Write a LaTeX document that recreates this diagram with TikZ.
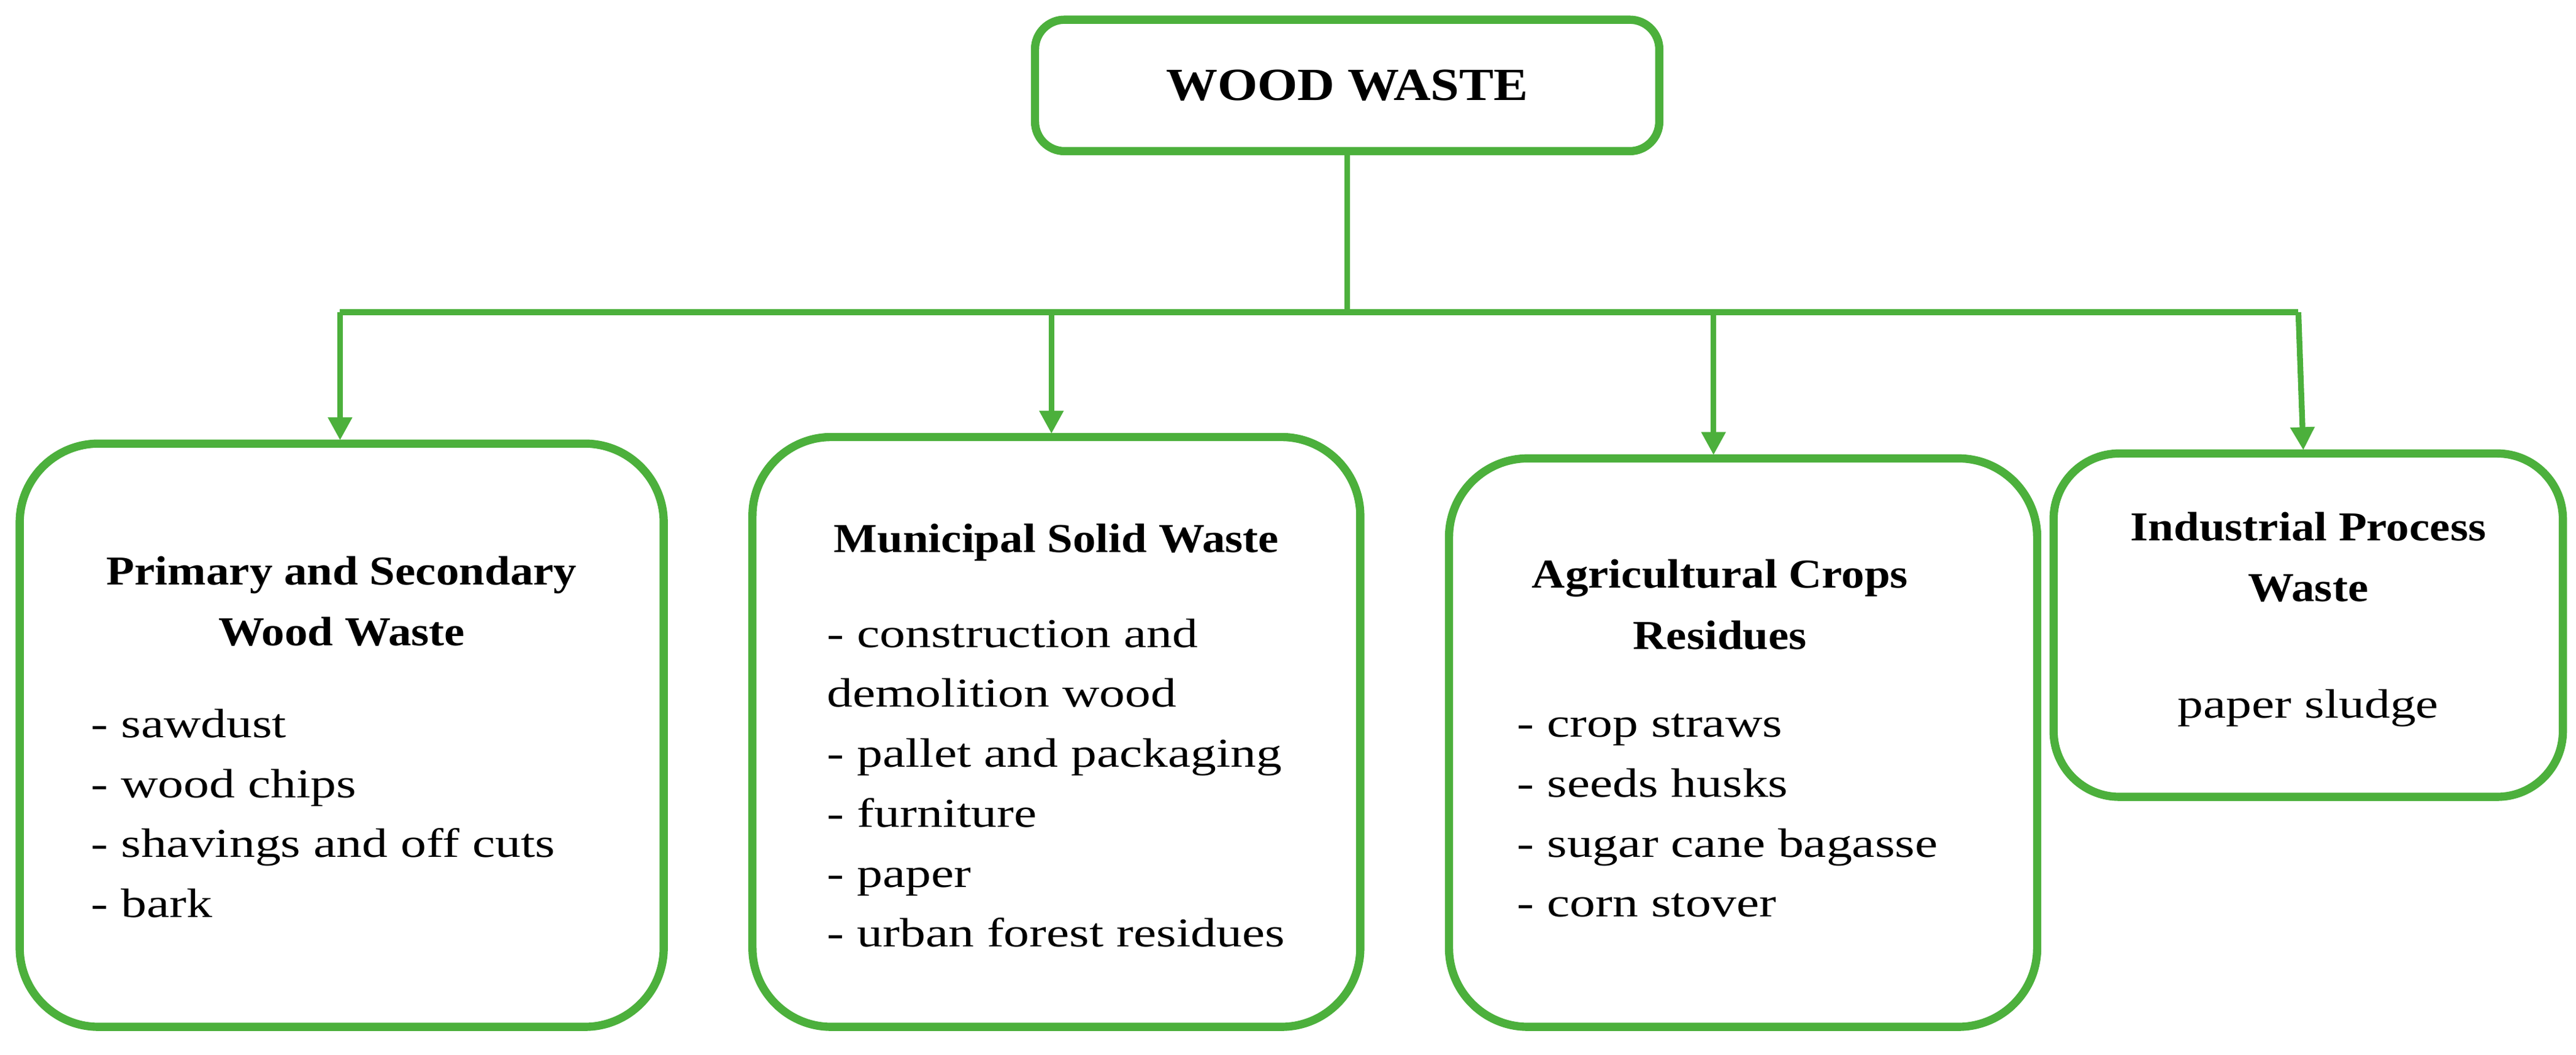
\documentclass[tikz,border=0pt]{standalone}
\usepackage{fontspec}
\setmainfont{Liberation Serif}
\newfontfamily\itemfont{Liberation Serif}[FakeStretch=1.25]
\newfontfamily\headfont{Liberation Serif}[FakeStretch=1.12]
\usetikzlibrary{arrows.meta}
\definecolor{gr}{RGB}{76,176,60}
\begin{document}
\begin{tikzpicture}[x=1pt,y=-1pt,
  box/.style={draw=gr,line width=5pt,rounded corners=48pt},
  conn/.style={draw=gr,line width=3.5pt},
  arr/.style={conn,-{Triangle[width=14pt,length=14pt]}},
  hd/.style={font=\headfont\fontsize{25}{37}\selectfont\bfseries,align=center},
  it/.style={font=\itemfont\fontsize{25}{36.5}\selectfont,align=left,anchor=north west}]
\useasboundingbox (0,0) rectangle (1568,642);
\draw[box,rounded corners=18pt] (630,12) rectangle (1010,92);
\node[font=\headfont\fontsize{28}{34}\selectfont\bfseries] (top) at (820,52) {WOOD WASTE};
\coordinate (ts) at (820,92);
\coordinate (j) at (820,190);
\coordinate (l) at (207,190);
\coordinate (r) at (1399,190);
\draw[box] (12,270) rectangle (404,625);
\draw[box] (458,266) rectangle (828,625);
\draw[box] (882,279) rectangle (1240,625);
\draw[box,rounded corners=40pt] (1250,276) rectangle (1560,485);
\coordinate (b1) at (207,268);
\coordinate (b2) at (640,264);
\coordinate (b3) at (1043,277);
\coordinate (b4) at (1402,274);
\coordinate (h2) at (640,190);
\coordinate (h3) at (1043,190);
\draw[conn] (ts) -- (j);
\draw[conn] (l) -- (r);
\draw[arr] (l) -- (b1);
\draw[arr] (h2) -- (b2);
\draw[arr] (h3) -- (b3);
\draw[arr] (r) -- (b4);
\node[hd] (t1) at (208,366) {Primary and Secondary\\Wood Waste};
\node[it] (i1) at (52,428) {- sawdust\\- wood chips\\- shavings and off cuts\\- bark};
\node[hd] (t2) at (643,330) {Municipal Solid Waste};
\node[it] (i2) at (500,373) {- construction and\\demolition wood\\- pallet and packaging\\- furniture\\- paper\\- urban forest residues};
\node[hd] (t3) at (1047,368) {Agricultural Crops\\Residues};
\node[it] (i3) at (920,431) {- crop straws\\- seeds husks\\- sugar cane bagasse\\- corn stover};
\node[hd] (t4) at (1405,339) {Industrial Process\\Waste};
\node[font=\itemfont\fontsize{25}{36}\selectfont] (i4) at (1405,431) {paper sludge};
\end{tikzpicture}
\end{document}
